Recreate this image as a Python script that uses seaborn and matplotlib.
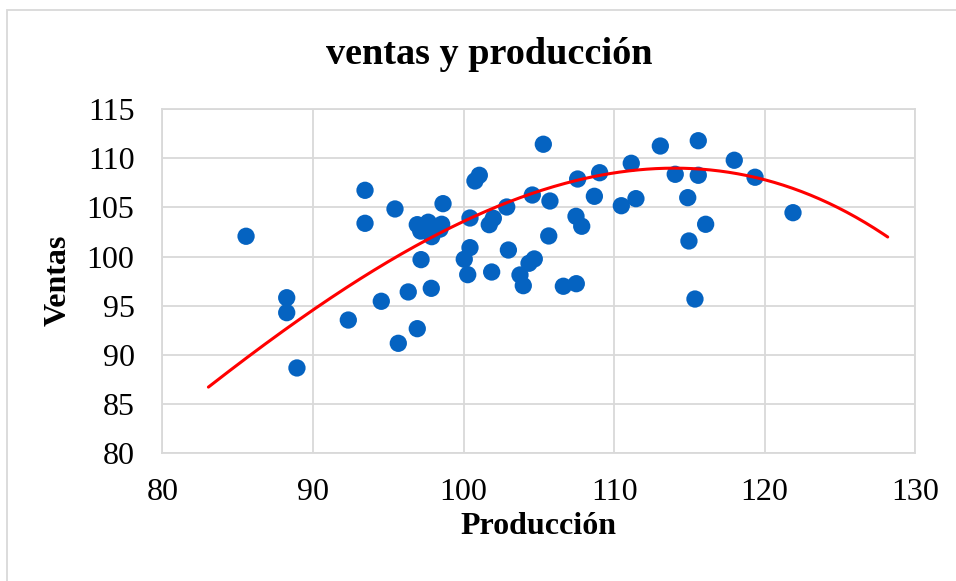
import numpy as np
import pandas as pd
import matplotlib
matplotlib.use("Agg")
import matplotlib.pyplot as plt
import seaborn as sns
from matplotlib.patches import Rectangle

produccion = [85.56, 88.26, 88.26, 88.94, 92.35, 93.46, 93.46, 94.54, 95.45, 95.67,
              96.33, 96.93, 96.93, 97.16, 97.18, 97.66, 97.89, 97.86, 98.55, 98.44,
              98.64, 100.43, 100.43, 100.05, 100.28, 100.76, 101.05, 101.71, 101.98, 101.87,
              102.87, 102.98, 103.75, 103.97, 104.35, 104.70, 104.57, 105.30, 105.74, 105.66,
              106.63, 107.49, 107.47, 107.85, 107.58, 108.69, 109.04, 110.48, 111.14, 111.45,
              113.07, 114.06, 114.89, 114.97, 115.37, 115.59, 115.59, 116.08, 117.98, 119.36,
              121.88]
ventas = [102.07, 95.81, 94.29, 88.66, 93.54, 106.75, 103.39, 95.45, 104.85, 91.17,
          96.40, 92.66, 103.25, 102.60, 99.69, 103.50, 102.03, 96.77, 103.29, 102.80,
          105.39, 103.93, 100.91, 99.73, 98.16, 107.70, 108.28, 103.25, 103.90, 98.43,
          105.05, 100.67, 98.13, 97.04, 99.32, 99.76, 106.27, 111.44, 105.66, 102.10,
          96.98, 97.24, 104.10, 103.09, 107.90, 106.14, 108.54, 105.18, 109.50, 105.90,
          111.26, 108.38, 106.00, 101.59, 95.68, 111.80, 108.28, 103.29, 109.81, 108.08,
          104.47]
# trendline (polynomial) at a few x positions
trend_x = [83.06, 90.0, 100.0, 113.9, 119.69, 124.78, 128.17]
trend_y = [86.8, 94.33, 103.8, 108.9, 107.97, 105.02, 102.03]
trend_order = 3
x_ticks = [80, 90, 100, 110, 120, 130]
y_ticks = [80, 85, 90, 95, 100, 105, 110, 115]
title = "ventas y producción"
xlabel = "Producción"
ylabel = "Ventas"

df = pd.DataFrame({"Producción": produccion, "Ventas": ventas})

sns.set_theme(style="white")
plt.rcParams['font.family'] = ['Liberation Serif', 'DejaVu Serif']
plt.rcParams['text.color'] = 'black'
plt.rcParams['axes.labelcolor'] = 'black'

fig = plt.figure(figsize=(9.56, 5.81), dpi=100)
ax = fig.add_axes([0.1698, 0.2203, 0.7876, 0.5916])

grid_c = "#D9D9D9"
ax.set_xlim(80, 130)
ax.set_ylim(80, 115)
ax.set_xticks(x_ticks)
ax.set_yticks(y_ticks)
ax.grid(True, color=grid_c, linewidth=1.3, zorder=0)
ax.set_axisbelow(True)
for s in ax.spines.values():
    s.set_color(grid_c)
    s.set_linewidth(1.3)

sns.scatterplot(data=df, x="Producción", y="Ventas", ax=ax, s=155,
                color="#0563C1", edgecolor="none", linewidth=0, zorder=3)

coef = np.polyfit(trend_x, trend_y, trend_order)
xs = np.linspace(min(trend_x), max(trend_x), 300)
sns.lineplot(x=xs, y=np.polyval(coef, xs), ax=ax, color="#FF0000",
             linewidth=2.2, zorder=4)

ax.tick_params(axis="both", length=0, labelsize=23, colors="black")
ax.tick_params(axis="y", pad=20)
ax.tick_params(axis="x", pad=18)

ax.set_xlabel(xlabel, fontsize=23, fontweight="bold", color="black")
ax.set_ylabel(ylabel, fontsize=23, fontweight="bold", color="black")
ax.xaxis.set_label_coords(0.499, -0.215)
ax.xaxis.label.set_va("center")
ax.yaxis.set_label_coords(-0.1385, 0.503)
ax.yaxis.label.set_va("center")

fig.text(489 / 956, 1 - 55 / 581, title, ha="center", va="center",
         fontsize=27.5, fontweight="bold", color="black")

fig.add_artist(Rectangle((7 / 956, -0.1), 1.2, 1 - 10 / 581 + 0.1,
                         transform=fig.transFigure, fill=False,
                         edgecolor=grid_c, linewidth=1.3))

fig.savefig("out.png", dpi=100)
